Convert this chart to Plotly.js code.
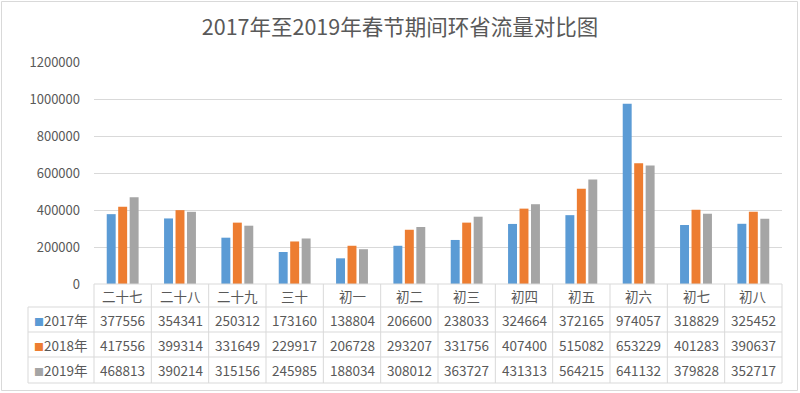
<!DOCTYPE html>
<html>
<head>
<meta charset="utf-8">
<script src="https://cdn.plot.ly/plotly-3.0.1.min.js"></script>
<style>html,body{margin:0;padding:0;background:#fff;}#chart{width:800px;height:393px;}</style>
</head>
<body>
<div id="chart"></div>
<script>
const categories = ["二十七","二十八","二十九","三十","初一","初二","初三","初四","初五","初六","初七","初八"];
const seriesNames = ["2017年","2018年","2019年"];
const v2017 = [377556,354341,250312,173160,138804,206600,238033,324664,372165,974057,318829,325452];
const v2018 = [417556,399314,331649,229917,206728,293207,331756,407400,515082,653229,401283,390637];
const v2019 = [468813,390214,315156,245985,188034,308012,363727,431313,564215,641132,379828,352717];
const colors = ["#5B9BD5","#ED7D31","#A5A5A5"];
const yTicks = [0,200000,400000,600000,800000,1000000,1200000];

const W = 800, H = 393;
const M = {l:94, r:18, t:62, b:109};
const PW = W - M.l - M.r, PH = H - M.t - M.b;
const textColor = "#595959";
const lineColor = "#D9D9D9";
const font = "'Noto Sans CJK SC', 'Microsoft YaHei', sans-serif";

const series = [v2017, v2018, v2019];
const traces = series.map((vals, i) => ({
  type: "bar", name: seriesNames[i], x: categories, y: vals,
  marker: {color: colors[i]}, hoverinfo: "x+y+name"
}));

const py = p => (H - M.b - p) / PH;
const px = p => (p - M.l) / PW;
const rowEdges = [284, 307, 332, 357, 383];
const tableLeft = 28;

const shapes = [];
const annotations = [];
const n = categories.length;
shapes.push({type:"line", xref:"paper", yref:"paper", x0:0, x1:1, y0:py(rowEdges[0]), y1:py(rowEdges[0]), line:{color:lineColor, width:1}});
for (let r = 1; r < rowEdges.length; r++) {
  shapes.push({type:"line", xref:"paper", yref:"paper", x0:px(tableLeft), x1:1, y0:py(rowEdges[r]), y1:py(rowEdges[r]), line:{color:lineColor, width:1}});
}
for (let i = 0; i <= n; i++) {
  shapes.push({type:"line", xref:"paper", yref:"paper", x0:i/n, x1:i/n, y0:py(rowEdges[0]), y1:py(rowEdges[4]), line:{color:lineColor, width:1}});
}
shapes.push({type:"line", xref:"paper", yref:"paper", x0:px(tableLeft), x1:px(tableLeft), y0:py(rowEdges[1]), y1:py(rowEdges[4]), line:{color:lineColor, width:1}});
shapes.push({type:"rect", xref:"paper", yref:"paper", x0:px(1.5), x1:px(797.5), y0:py(1.5), y1:py(390.5), line:{color:lineColor, width:1}, fillcolor:"rgba(0,0,0,0)", layer:"below"});

const cellFont = {size:13.5, color:textColor, family:font};
categories.forEach(c => annotations.push({xref:"x", yref:"paper", x:c, y:py((rowEdges[0]+rowEdges[1])/2), text:c, showarrow:false, font:cellFont, xanchor:"center", yanchor:"middle"}));
series.forEach((vals, r) => {
  const yc = py((rowEdges[r+1]+rowEdges[r+2])/2);
  annotations.push({xref:"paper", yref:"paper", x:px(32), y:yc, xanchor:"left", yanchor:"middle", showarrow:false,
    text:`<span style="color:${colors[r]};font-size:10px">■</span>${seriesNames[r]}`, font:cellFont});
  vals.forEach((v, i) => annotations.push({xref:"x", yref:"paper", x:categories[i], y:yc, text:String(v), showarrow:false, font:cellFont, xanchor:"center", yanchor:"middle"}));
});

const layout = {
  width: W, height: H,
  margin: M,
  paper_bgcolor: "#fff", plot_bgcolor: "#fff",
  font: {family: font, color: textColor, size: 12},
  title: {text: "2017年至2019年春节期间环省流量对比图", xref:"container", yref:"container", x:0.5, y:1-27/H, xanchor:"center", yanchor:"middle", font:{size:21.5, color:textColor, family:font}},
  showlegend: false,
  barmode: "group", bargap: 0.4, bargroupgap: 0.22,
  xaxis: {showticklabels:false, ticks:"", showgrid:false, zeroline:false, showline:false, fixedrange:true},
  yaxis: {range:[0,1200000], tickvals: yTicks, ticktext: yTicks.map(String), showgrid:true, gridcolor:lineColor, gridwidth:1, zeroline:false, showline:false, ticks:"", ticklabelstandoff:13, tickfont:{size:13, color:textColor, family:font}},
  shapes, annotations
};
Plotly.newPlot("chart", traces, layout, {displayModeBar:false, staticPlot:true});
</script>
</body>
</html>
